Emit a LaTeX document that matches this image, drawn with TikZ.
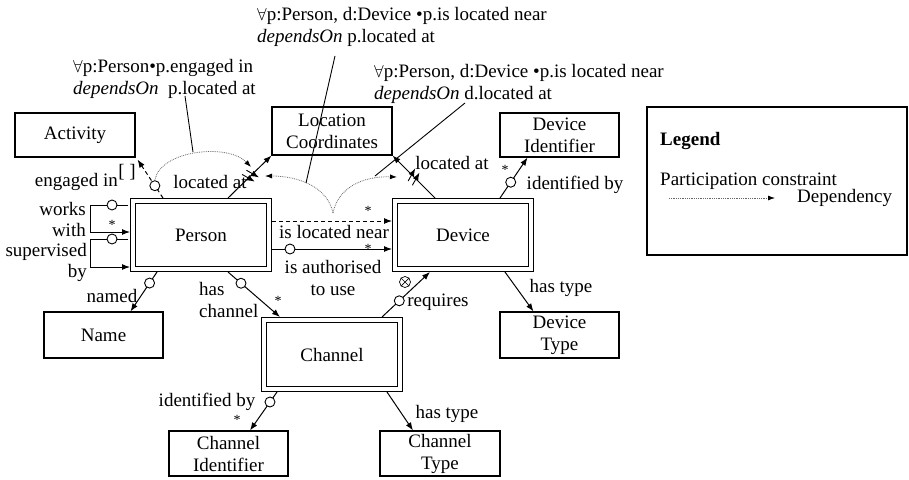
\documentclass[tikz,border=0pt]{standalone}
\usepackage{fontspec}
\setmainfont{Liberation Serif}
\usetikzlibrary{arrows.meta,calc,decorations.markings}
\begin{document}
\begin{tikzpicture}[x=1pt,y=-1pt,
  font=\fontsize{19}{22}\selectfont,
  box/.style={draw,line width=1.1pt,inner sep=0pt,align=center},
  ent/.style={draw,line width=1.1pt,double,double distance=3.6pt,outer sep=2.9pt,
              minimum width=136.2pt,minimum height=68.2pt,inner sep=0pt},
  conn/.style={line width=1pt},
  arr/.style={-{Latex[length=8pt,width=6pt]}},
  role/.style={circle,draw,fill=white,inner sep=0pt,minimum size=10pt,line width=0.9pt},
  dep/.style={densely dotted,line width=0.8pt,draw=black!60,-{Latex[length=7pt,width=5pt,black]}},
  lbl/.style={inner sep=0pt},
  star/.style={inner sep=0pt,font=\fontsize{14}{14}\selectfont},
  xmark/.style={postaction={decorate,decoration={markings,mark=at position #1 with
     {\draw[line width=0.9pt] (-5,-7) -- (-1,7); \draw[line width=0.9pt] (1,-7) -- (5,7);}}}}
  ]
\useasboundingbox (0,0) rectangle (909,479);

% entity types and value types
\node[ent] (person) at (201,235) {Person};
\node[ent] (device) at (463,235) {Device};
\node[ent,minimum height=69.2pt] (channel) at (332,354.5) {Channel};
\node[box,minimum width=120pt,minimum height=44pt] (activity) at (75,135) {Activity};
\node[box,minimum width=120pt,minimum height=48pt] (loc) at (332,131) {Location\\Coordinates};
\node[box,minimum width=119pt,minimum height=44pt] (devid) at (559.5,135) {Device\\Identifier};
\node[box,minimum width=119pt,minimum height=46pt] (name) at (103.5,335) {Name};
\node[box,minimum width=119pt,minimum height=46pt] (devtype) at (559.5,335) {Device\\Type};
\node[box,minimum width=119pt,minimum height=45pt] (chid) at (228.5,453.5) {Channel\\Identifier};
\node[box,minimum width=120pt,minimum height=45pt] (chtype) at (440,453.5) {Channel\\Type};

% legend
\node[draw,line width=1.1pt,minimum width=260pt,minimum height=148pt] (legend) at (777,181) {};
\node[lbl,anchor=west,font=\fontsize{19}{22}\selectfont\bfseries] (lgt) at (660,141) {Legend};
\node[lbl,anchor=west] (lgp) at (660,181) {Participation constraint};
\node[lbl,anchor=west] (lgd) at (797,198) {Dependency};
\coordinate (lg1) at (669,198);
\coordinate (lg2) at (775,198);
\draw[dep] (lg1) -- (lg2);

% engaged in
\draw[conn,dashed,dash pattern=on 4pt off 3pt,arr] ($(person.north)+(-38,0)$)
   -- node[role,solid,pos=0.32] (r1) {} ($(activity.south east)+(2,2)$);
\node[lbl,anchor=east] (leng) at (118,182) {engaged in};
\node[lbl] (brk) at (127,172) {[\ ]};

% person located at
\draw[conn,arr,xmark=0.52] ($(person.north)+(27,0)$) -- (loc.south west);
\node[lbl] (lpla) at (210,182) {located at};

% device located at
\draw[conn,arr,xmark=0.5] ($(device.north)+(-28,0)$) -- (loc.south east);
\node[lbl] (ldla) at (452,163) {located at};

% device identified by
\draw[conn,arr] ($(device.north)+(37,0)$) -- node[role,pos=0.39] (r2) {} ($(devid.south)+(-32,0)$);
\node[star] (s2) at (505,170) {*};
\node[lbl] (ldib) at (575,185) {identified by};

% device has type
\draw[conn,arr] ($(device.south)+(42,0)$) -- ($(devtype.north)+(-26,0)$);
\node[lbl] (ldht) at (561,288) {has type};

% is located near
\draw[conn,dashed,dash pattern=on 4pt off 3pt,arr] ($(person.east)+(0,-14)$) -- ($(device.west)+(0,-14)$);
\node[star] (s3) at (368,211) {*};
\node[lbl] (lnear) at (334,232) {is located near};

% is authorised to use
\draw[conn,arr] ($(person.east)+(0,14)$) -- node[role,pos=0.15] (r3) {} ($(device.west)+(0,14)$);
\node[star] (s4) at (368,249) {*};
\node[lbl,align=center] (lauth) at (333,278) {is authorised\\to use};

% requires
\draw[conn,arr] ($(channel.north)+(50,0)$) -- node[role,pos=0.36] (r4) {} ($(device.south)+(-33,0)$);
\node[circle,draw,line width=0.7pt,inner sep=0pt,minimum size=11pt] (xr) at (405,282) {};
\draw[line width=0.7pt] (xr.north west) -- (xr.south east) (xr.north east) -- (xr.south west);
\node[lbl] (lreq) at (438,302) {requires};

% has channel
\draw[conn,arr] ($(person.south)+(27,0)$) -- node[role,pos=0.25] (r5) {} ($(channel.north)+(-52,0)$);
\node[star] (s5) at (278,301) {*};
\node[lbl,anchor=west,align=left] (lhc) at (199,300) {has\\channel};

% named
\draw[conn,arr] ($(person.south)+(-44,0)$) -- node[role,pos=0.28] (r6) {} ($(name.north)+(27,0)$);
\node[lbl] (lnamed) at (112,296) {named};

% works with
\draw[conn,arr] ($(person.west)+(-2,-30)$) -- node[role,pos=0.42] (r7) {} ++(-38,0)
   -- ++(0,27) -- ($(person.west)+(0,-3)$);
\node[star] (s7) at (112,225) {*};
\node[lbl,anchor=east,align=right,font=\fontsize{19}{21}\selectfont] (lww) at (86,219.5) {works\\with};

% supervised by
\draw[conn,arr] ($(person.west)+(-2,4)$) -- node[role,pos=0.42] (r8) {} ++(-38,0)
   -- ++(0,28) -- ($(person.west)+(0,32)$);
\node[lbl,anchor=east,align=right,font=\fontsize{19}{21}\selectfont] (lsb) at (87,262) {supervised\\by};

% channel identified by
\draw[conn,arr] ($(channel.south)+(-55,0)$) -- node[role,pos=0.26] (r9) {} ($(chid.north)+(21.5,0)$);
\node[star] (s9) at (237,420) {*};
\node[lbl] (lcib) at (207,402) {identified by};

% channel has type
\draw[conn,arr] ($(channel.south)+(55,0)$) -- ($(chtype.north)+(-27,0)$);
\node[lbl] (lcht) at (447,414) {has type};

% dependencies
\coordinate (tipA) at (251,167);
\coordinate (cusp) at (333,213);
\coordinate (tipB) at (265,176);
\coordinate (tipC) at (397,177);
\draw[dep] (r1.north) .. controls (160,150) and (228,143) .. (tipA);
\draw[dep] (cusp) .. controls (328,188) and (300,176) .. (tipB);
\draw[dep] (cusp) .. controls (338,188) and (362,176) .. (tipC);

% annotations
\node[lbl,anchor=west,align=left] (ann1) at (257,26.5)
  {$\forall$p:Person, d:Device \textbullet p.is located near\\\textit{dependsOn} p.located at};
\node[lbl,anchor=west,align=left] (ann2) at (73,79)
  {$\forall$p:Person\textbullet p.engaged in\\\textit{dependsOn}\ \ p.located at};
\node[lbl,anchor=west,align=left] (ann3) at (374,83.5)
  {$\forall$p:Person, d:Device \textbullet p.is located near\\\textit{dependsOn} d.located at};
\coordinate (a1s) at (335,56);
\coordinate (a1e) at (306,183);
\coordinate (a2s) at (185,96);
\coordinate (a2e) at (193,152);
\coordinate (a3s) at (465,103);
\coordinate (a3e) at (375,176);
\draw[line width=0.9pt] (a1s) -- (a1e);
\draw[line width=0.9pt] (a2s) -- (a2e);
\draw[line width=0.9pt] (a3s) -- (a3e);
\end{tikzpicture}
\end{document}
